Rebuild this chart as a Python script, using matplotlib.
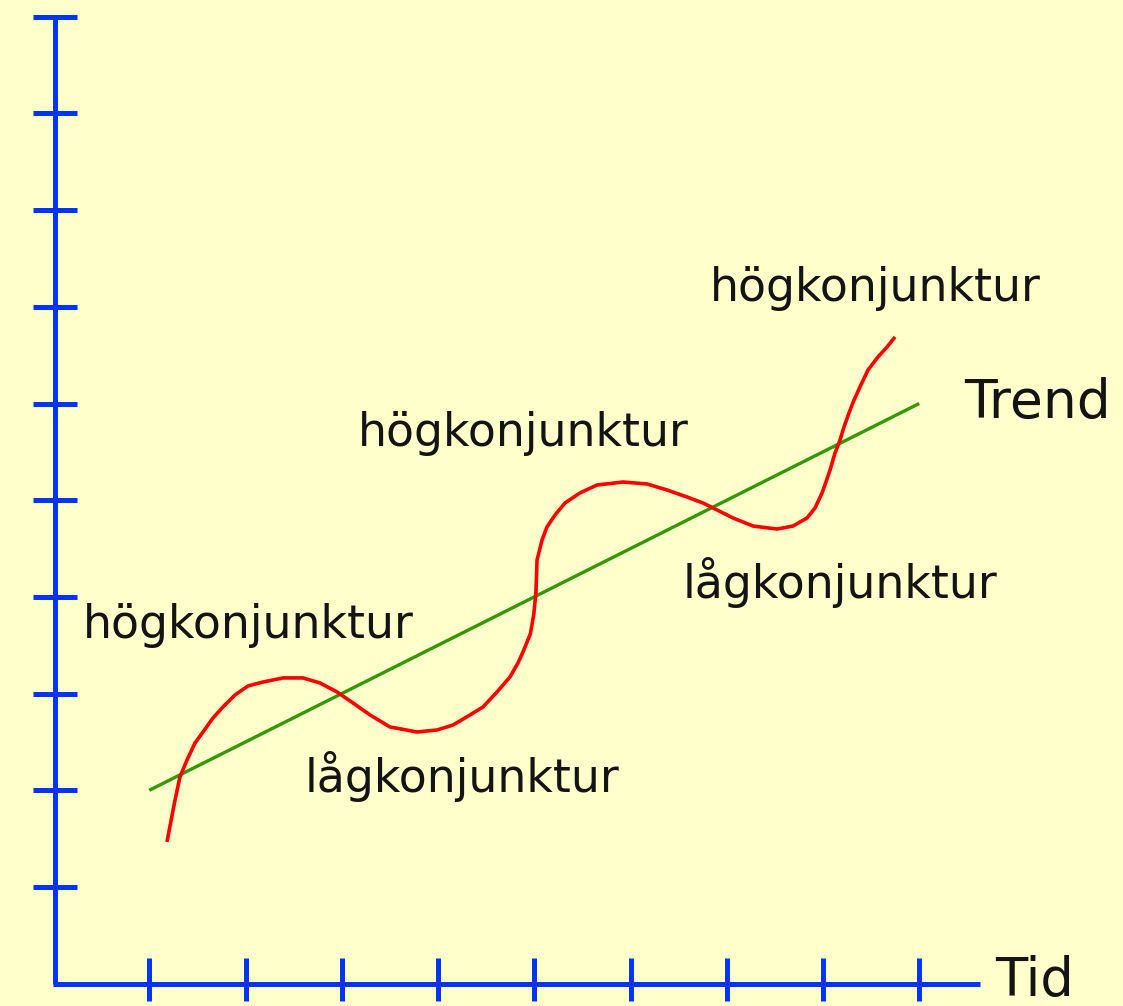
import matplotlib
matplotlib.use("Agg")
import matplotlib.pyplot as plt

# ---- data (in grid units: one unit = one tick step) ----
x_ticks = [1, 2, 3, 4, 5, 6, 7, 8, 9]
y_ticks = [1, 2, 3, 4, 5, 6, 7, 8, 9, 10]

trend_x = [1.0, 9.0]
trend_y = [2.0, 6.0]

cycle_x = [1.184, 1.268, 1.319, 1.392, 1.475, 1.558, 1.662, 1.766, 1.891, 2.026,
           2.182, 2.390, 2.597, 2.774, 2.951, 3.117, 3.294, 3.501, 3.782, 3.990,
           4.156, 4.332, 4.468, 4.613, 4.748, 4.831, 4.883, 4.960, 4.995, 5.018,
           5.029, 5.081, 5.132, 5.216, 5.319, 5.475, 5.652, 5.922, 6.171, 6.379,
           6.587, 6.753, 6.899, 7.065, 7.273, 7.522, 7.688, 7.834, 7.917, 7.990,
           8.031, 8.073, 8.125, 8.177, 8.218, 8.270, 8.322, 8.384, 8.468, 8.571,
           8.665, 8.748]
cycle_y = [1.466, 1.900, 2.138, 2.313, 2.489, 2.603, 2.748, 2.862, 2.986, 3.079,
           3.120, 3.162, 3.162, 3.110, 3.017, 2.903, 2.779, 2.655, 2.603, 2.624,
           2.675, 2.779, 2.862, 3.017, 3.172, 3.317, 3.430, 3.620, 3.820, 4.050,
           4.382, 4.588, 4.723, 4.847, 4.971, 5.075, 5.157, 5.188, 5.168, 5.106,
           5.033, 4.971, 4.899, 4.816, 4.733, 4.702, 4.733, 4.816, 4.919, 5.075,
           5.188, 5.312, 5.488, 5.623, 5.757, 5.902, 6.036, 6.171, 6.347, 6.481,
           6.584, 6.688]

labels = ["högkonjunktur", "högkonjunktur", "högkonjunktur",
          "lågkonjunktur", "lågkonjunktur"]
label_x = [0.312, 3.169, 6.826, 2.618, 6.545]
label_y = [3.575, 5.560, 7.060, 1.982, 3.989]

trend_label = "Trend"
time_label = "Tid"

# ---- styling ----
BG = "#FFFFCC"
BLUE = "#0033FF"
RED = "#FF0000"
GREEN = "#339900"
TXT = "#141414"

W, H = 1123, 1006
fig = plt.figure(figsize=(W / 100, H / 100), dpi=100, facecolor=BG)
ax = fig.add_axes([0, 0, 1, 1])
ax.set_facecolor(BG)
ax.set_axis_off()

# pixel -> data mapping: X=(px-53)/96.25, Y=(983.7-py)/96.7
ax.set_xlim((0 - 53) / 96.25, (W - 53) / 96.25)
ax.set_ylim((983.7 - H) / 96.7, 983.7 / 96.7)

axis_lw = 3.6
# axes lines
ax.plot([0.021, 0.021], [0, 10.0], color=BLUE, lw=axis_lw, solid_capstyle="butt")
ax.plot([0.0, 9.63], [0, 0], color=BLUE, lw=axis_lw, solid_capstyle="butt")
# y ticks
for yt in y_ticks:
    ax.plot([-0.21, 0.25], [yt, yt], color=BLUE, lw=axis_lw, solid_capstyle="butt")
# x ticks
for xt in x_ticks:
    ax.plot([xt, xt], [-0.18, 0.265], color=BLUE, lw=axis_lw,
            solid_capstyle="butt")

# trend and cycle
ax.plot(trend_x, trend_y, color=GREEN, lw=2.4, solid_capstyle="butt")
ax.plot(cycle_x, cycle_y, color=RED, lw=2.6, solid_capstyle="butt",
        solid_joinstyle="round")

font = "DejaVu Sans"
for t, x, y in zip(labels, label_x, label_y):
    ax.text(x, y, t, ha="left", va="baseline", fontsize=33, color=TXT,
            family=font)
ax.text(9.47, 5.85, trend_label, ha="left", va="baseline", fontsize=38.5,
        color=TXT, family=font)
ax.text(9.79, -0.13, time_label, ha="left", va="baseline", fontsize=38,
        color=TXT, family=font)

fig.savefig("out.png", dpi=100, facecolor=BG)
